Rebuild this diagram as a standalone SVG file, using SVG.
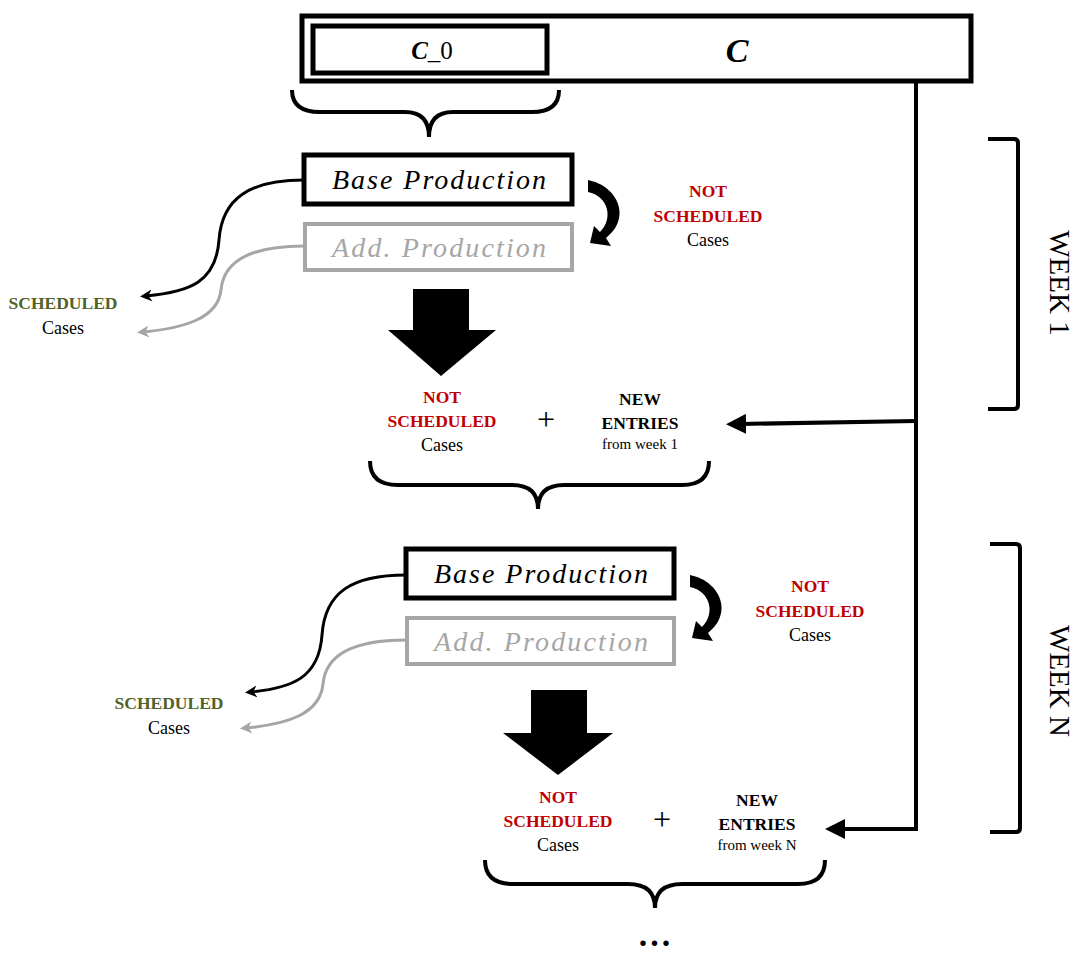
<svg xmlns="http://www.w3.org/2000/svg" width="1076" height="954" viewBox="0 0 1076 954">
<defs>
<marker id="ah" viewBox="0 0 10 10" refX="5" refY="5" markerWidth="4" markerHeight="4" orient="auto" markerUnits="strokeWidth"><path d="M0,0 L10,5 L0,10 L3,5 Z" fill="#000"/></marker>
<marker id="ahg" viewBox="0 0 10 10" refX="5" refY="5" markerWidth="4" markerHeight="4" orient="auto" markerUnits="strokeWidth"><path d="M0,0 L10,5 L0,10 L3,5 Z" fill="#a6a6a6"/></marker>
<marker id="ahb" viewBox="0 0 10 10" refX="3" refY="5" markerWidth="5" markerHeight="5" orient="auto" markerUnits="strokeWidth"><path d="M0,0 L10,5 L0,10 Z" fill="#000"/></marker>
</defs>
<style>
text{font-family:"Liberation Serif","DejaVu Serif",serif;text-anchor:middle}
.box{fill:#fff;stroke:#000;stroke-width:5}
.gbox{fill:#fff;stroke:#a6a6a6;stroke-width:4}
.it{font-style:italic;font-size:28px;fill:#000}
.git{font-style:italic;font-size:28px;fill:#a6a6a6}
.red{font-weight:bold;font-size:17.5px;fill:#c00000}
.grn{font-weight:bold;font-size:17.5px;fill:#4f6228}
.blk{font-weight:bold;font-size:17.5px;fill:#000}
.cs{font-size:18px;fill:#000}
.sm{font-size:15px;fill:#000}
.brace{fill:none;stroke:#000;stroke-width:4}
.ln{fill:none;stroke:#000;stroke-width:4}
.lg{fill:none;stroke:#a6a6a6;stroke-width:3}
.wk{font-size:29px;fill:#000}
</style>

<g id="C">
<rect x="302" y="16" width="669" height="65" class="box"/>
<text x="737" y="62" style="font-style:italic;font-weight:bold;font-size:34px">C</text>
</g>
<g id="C0">
<rect x="313" y="26" width="234" height="47" class="box"/>
<text x="432" y="59" style="font-size:25px"><tspan font-weight="bold" font-style="italic">C</tspan>_0</text>
</g>
<g id="brace0"><path class="brace" d="M292,90 Q292,112 320,112 L405,112 Q429,112 429,137 Q429,112 453,112 L532,112 Q559,112 559,90"/></g>

<g id="week1-base">
<rect x="304" y="155" width="268" height="49" class="box"/>
<text x="439" y="189" class="it" textLength="214" lengthAdjust="spacing">Base Production</text>
</g>
<g id="week1-add">
<rect x="305" y="224" width="267" height="46" class="gbox"/>
<text x="439" y="257" class="git" textLength="214" lengthAdjust="spacing">Add. Production</text>
</g>
<g id="week1-sched">
<text x="63" y="309" class="grn">SCHEDULED</text>
<text x="63" y="334" class="cs">Cases</text>
</g>
<g id="week1-notsched-r">
<text x="708" y="197" class="red">NOT</text>
<text x="708" y="222" class="red">SCHEDULED</text>
<text x="708" y="246" class="cs">Cases</text>
</g>
<g id="week1-notsched">
<text x="442" y="403" class="red">NOT</text>
<text x="442" y="427" class="red">SCHEDULED</text>
<text x="442" y="451" class="cs">Cases</text>
<text x="546" y="430" style="font-size:32px">+</text>
</g>
<g id="week1-new">
<text x="640" y="405" class="blk">NEW</text>
<text x="640" y="429" class="blk">ENTRIES</text>
<text x="640" y="449" class="sm">from week 1</text>
</g>
<g id="brace1"><path class="brace" d="M370,461 Q370,485 398,485 L512,485 Q538,485 538,509 Q538,485 564,485 L682,485 Q709,485 709,461"/></g>
<g id="week1-bracket">
<path class="ln" d="M988,139 L1014,139 Q1018,139 1018,143 L1018,405 Q1018,409 1014,409 L988,409"/>
<text transform="translate(1050,283) rotate(90)" class="wk">WEEK 1</text>
</g>

<g id="weekN-base">
<rect x="406" y="549" width="268" height="49" class="box"/>
<text x="541" y="583" class="it" textLength="214" lengthAdjust="spacing">Base Production</text>
</g>
<g id="weekN-add">
<rect x="407" y="618" width="267" height="46" class="gbox"/>
<text x="541" y="651" class="git" textLength="214" lengthAdjust="spacing">Add. Production</text>
</g>
<g id="weekN-sched">
<text x="169" y="709" class="grn">SCHEDULED</text>
<text x="169" y="734" class="cs">Cases</text>
</g>
<g id="weekN-notsched-r">
<text x="810" y="592" class="red">NOT</text>
<text x="810" y="617" class="red">SCHEDULED</text>
<text x="810" y="641" class="cs">Cases</text>
</g>
<g id="weekN-notsched">
<text x="558" y="803" class="red">NOT</text>
<text x="558" y="827" class="red">SCHEDULED</text>
<text x="558" y="851" class="cs">Cases</text>
<text x="662" y="830" style="font-size:32px">+</text>
</g>
<g id="weekN-new">
<text x="757" y="806" class="blk">NEW</text>
<text x="757" y="830" class="blk">ENTRIES</text>
<text x="757" y="850" class="sm">from week N</text>
</g>
<g id="braceN"><path class="brace" d="M485,860 Q485,884 513,884 L628,884 Q655,884 655,908 Q655,884 682,884 L798,884 Q825,884 825,860"/></g>
<g id="weekN-bracket">
<path class="ln" d="M990,544 L1016,544 Q1020,544 1020,548 L1020,828 Q1020,832 1016,832 L990,832"/>
<text transform="translate(1050,681) rotate(90)" class="wk">WEEK N</text>
</g>
<g id="dots"><text x="656" y="946" style="font-weight:bold;font-size:34px;letter-spacing:3px">...</text></g>

<g id="connectors">
<path class="ln" style="stroke-width:3" d="M304,180 C250,180 222,198 219,240 C216,282 190,292 146,296" marker-end="url(#ah)"/>
<path class="lg" d="M304,246 C260,246 224,256 221,290 C218,318 185,328 143,332" marker-end="url(#ahg)"/>
<path class="ln" style="stroke-width:3" d="M406,575 C352,575 325,592 322,635 C319,678 292,688 251,692" marker-end="url(#ah)"/>
<path class="lg" d="M406,640 C362,640 326,650 323,684 C320,714 288,724 246,728" marker-end="url(#ahg)"/>
<path d="M588,180 C618,186 632,218 606,238 L611,246 L590,243 L594,226 L600,232 C614,218 608,196 588,192 Z" fill="#000"/>
<path d="M690,575 C720,581 734,613 708,633 L713,641 L692,638 L696,621 L702,627 C716,613 710,591 690,587 Z" fill="#000"/>
<path d="M413,289 L469,289 L469,330 L496,330 L441,376 L388,330 L413,330 Z" fill="#000"/>
<path d="M531,690 L587,690 L587,733 L613,733 L558,775 L503,733 L531,733 Z" fill="#000"/>
<path class="ln" d="M916,81 L916,829"/>
<path class="ln" d="M916,421 L740,424" marker-end="url(#ahb)"/>
<path class="ln" d="M918,829 L839,829" marker-end="url(#ahb)"/>
</g>
</svg>
